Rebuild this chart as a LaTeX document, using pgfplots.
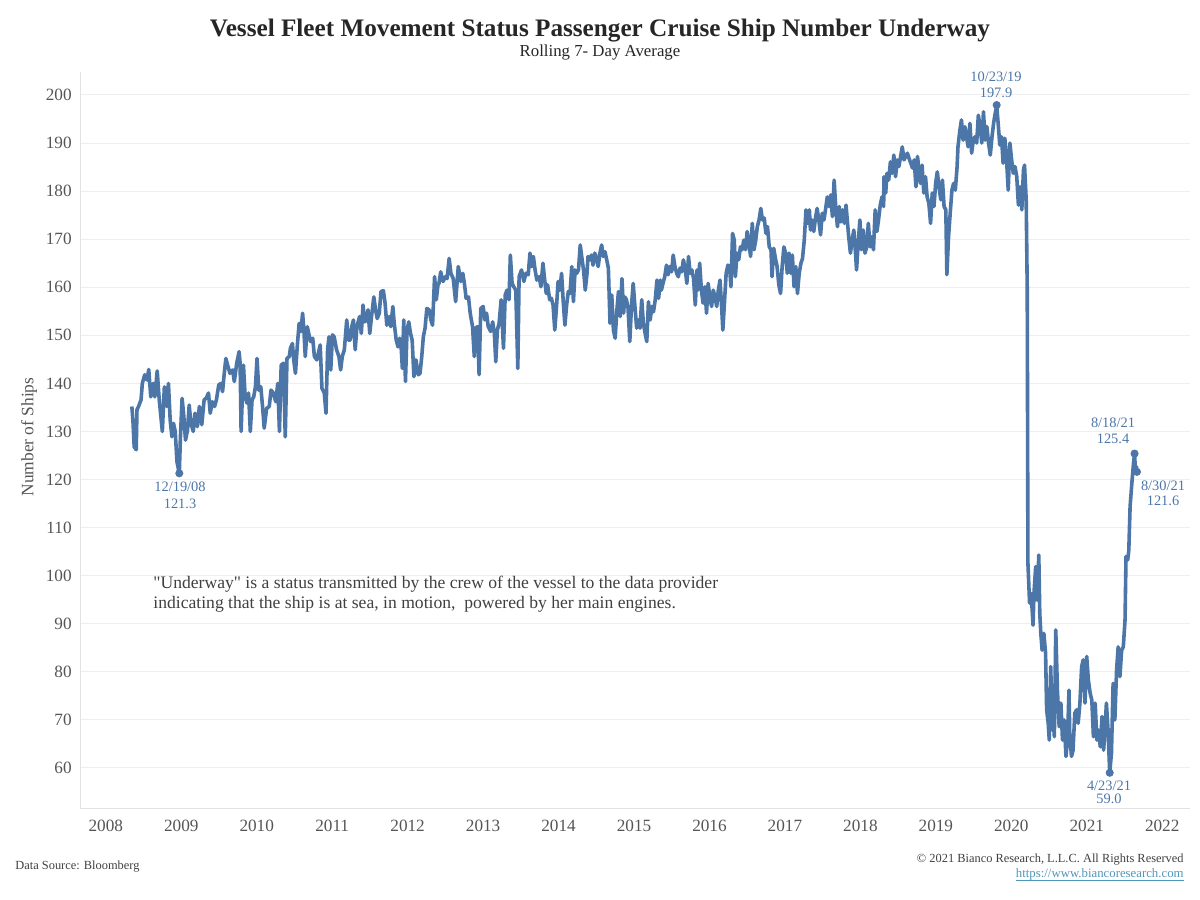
\documentclass[border=0pt]{standalone}
\usepackage{pgfplots}
\pgfplotsset{compat=1.18}
\usepackage{fontspec}
\setmainfont{Liberation Serif}
\newfontfamily\notefont{Liberation Serif}[Ligatures=TeXOff]
\definecolor{line}{RGB}{76,118,167}
\definecolor{gridgray}{RGB}{238,238,238}
\definecolor{axgray}{RGB}{226,226,226}
\definecolor{ticktext}{RGB}{85,85,85}
\definecolor{titletext}{RGB}{38,38,38}
\definecolor{notetext}{RGB}{64,64,64}
\definecolor{linktext}{RGB}{80,150,185}
\begin{document}
\begin{tikzpicture}
\useasboundingbox (0,0) rectangle (600pt,450pt);
\begin{axis}[
  at={(40pt,45.5pt)}, anchor=south west,
  scale only axis, width=555pt, height=368.5pt,
  xmin=2007.658, xmax=2022.368, ymin=51.47, ymax=204.78,
  xtick={2008,2009,2010,2011,2012,2013,2014,2015,2016,2017,2018,2019,2020,2021,2022},
  xticklabels={2008,2009,2010,2011,2012,2013,2014,2015,2016,2017,2018,2019,2020,2021,2022},
  ytick={60,70,80,90,100,110,120,130,140,150,160,170,180,190,200},
  /pgf/number format/assume math mode=true,
  ymajorgrids, major grid style={draw=gridgray, line width=0.5pt},
  major tick length=0pt, tick style={draw=none},
  axis x line*=bottom, axis y line*=left,
  axis line style={draw=axgray, line width=0.5pt, -},
  ticklabel style={font=\fontsize{8.6}{10}\selectfont, text=ticktext},
  yticklabel style={anchor=east, inner sep=0pt, xshift=-4pt},
  xticklabel style={anchor=north, inner sep=0pt, yshift=-5.2pt},
]
\addplot[line, line width=1.8pt, line join=round] table {
x y
2008.345 135.2
2008.359 132.4
2008.376 126.8
2008.403 126.2
2008.413 134.5
2008.434 135.2
2008.467 136.6
2008.484 140.0
2008.516 141.8
2008.547 140.7
2008.569 142.9
2008.596 137.2
2008.627 140.0
2008.650 137.2
2008.681 142.6
2008.708 136.6
2008.749 130.0
2008.776 139.3
2008.808 135.2
2008.830 140.0
2008.853 132.4
2008.876 128.9
2008.897 131.7
2008.920 130.0
2008.943 123.7
2008.974 121.3
2008.989 128.9
2009.011 136.9
2009.034 133.1
2009.056 128.2
2009.083 130.3
2009.105 135.5
2009.128 131.7
2009.159 130.0
2009.182 133.8
2009.213 131.0
2009.240 135.2
2009.272 131.4
2009.303 136.6
2009.330 136.9
2009.361 138.0
2009.384 133.8
2009.411 136.2
2009.442 135.2
2009.466 136.6
2009.497 139.7
2009.524 140.0
2009.547 138.3
2009.568 141.8
2009.591 145.2
2009.614 143.8
2009.645 142.1
2009.681 142.8
2009.703 140.4
2009.735 144.2
2009.766 146.6
2009.780 144.2
2009.793 130.0
2009.824 143.8
2009.847 137.2
2009.870 135.9
2009.892 138.0
2009.915 130.0
2009.938 136.6
2009.960 137.2
2009.983 139.3
2010.004 145.2
2010.027 138.6
2010.054 139.3
2010.077 135.2
2010.099 130.7
2010.131 134.8
2010.166 135.2
2010.189 138.6
2010.220 138.0
2010.252 136.2
2010.279 140.0
2010.301 130.0
2010.324 143.8
2010.355 144.2
2010.378 128.9
2010.401 145.2
2010.432 145.6
2010.446 147.3
2010.473 148.3
2010.490 144.9
2010.513 142.1
2010.540 148.3
2010.562 152.5
2010.585 150.8
2010.608 154.6
2010.625 151.1
2010.643 145.6
2010.670 151.8
2010.693 150.1
2010.715 148.7
2010.742 149.4
2010.764 145.6
2010.796 144.9
2010.827 147.0
2010.841 148.0
2010.864 139.0
2010.895 138.0
2010.918 133.8
2010.939 147.0
2010.958 149.7
2010.981 142.8
2011.004 150.1
2011.026 149.7
2011.058 147.0
2011.089 145.6
2011.112 142.8
2011.134 145.6
2011.161 147.0
2011.193 153.2
2011.215 149.0
2011.238 149.0
2011.260 151.8
2011.282 153.2
2011.305 147.0
2011.328 151.8
2011.363 153.9
2011.386 150.4
2011.409 156.3
2011.430 152.8
2011.454 153.2
2011.475 155.3
2011.498 150.4
2011.521 153.9
2011.552 158.0
2011.575 155.3
2011.597 153.5
2011.624 154.6
2011.647 159.1
2011.678 159.3
2011.701 156.7
2011.724 152.1
2011.755 153.9
2011.777 151.8
2011.804 156.0
2011.822 152.5
2011.849 149.0
2011.872 147.6
2011.894 149.4
2011.916 147.0
2011.930 143.1
2011.948 153.2
2011.971 140.4
2011.992 151.1
2012.015 152.8
2012.038 150.4
2012.060 149.0
2012.083 141.4
2012.110 144.9
2012.141 141.8
2012.164 142.1
2012.187 145.6
2012.208 149.7
2012.231 151.5
2012.254 155.6
2012.285 155.3
2012.308 153.2
2012.330 152.1
2012.357 162.2
2012.380 157.4
2012.402 160.5
2012.415 160.8
2012.438 163.2
2012.469 161.2
2012.501 162.2
2012.523 161.8
2012.550 166.0
2012.573 162.9
2012.604 161.8
2012.636 157.0
2012.671 164.3
2012.704 161.2
2012.731 162.9
2012.752 160.8
2012.775 157.7
2012.806 158.0
2012.829 154.6
2012.860 151.8
2012.883 145.6
2012.902 151.5
2012.925 151.8
2012.947 141.8
2012.969 155.6
2013.001 156.0
2013.023 153.2
2013.046 154.6
2013.068 151.8
2013.100 150.8
2013.127 152.8
2013.149 150.4
2013.168 144.5
2013.189 151.1
2013.212 152.5
2013.239 157.4
2013.270 147.3
2013.293 158.4
2013.316 159.4
2013.343 157.4
2013.361 166.7
2013.384 160.8
2013.406 160.1
2013.433 159.4
2013.460 143.1
2013.477 162.2
2013.509 163.6
2013.540 161.2
2013.567 162.9
2013.598 162.6
2013.621 167.1
2013.644 164.3
2013.666 166.4
2013.689 163.6
2013.712 161.5
2013.743 162.2
2013.766 160.1
2013.793 165.0
2013.814 161.8
2013.837 158.7
2013.855 160.5
2013.882 157.4
2013.905 157.7
2013.927 156.3
2013.950 151.1
2013.973 156.0
2013.994 161.2
2014.017 159.4
2014.040 162.9
2014.062 157.0
2014.084 152.1
2014.107 156.3
2014.129 159.1
2014.152 158.7
2014.175 164.3
2014.197 157.0
2014.219 163.6
2014.242 162.9
2014.264 163.6
2014.287 168.8
2014.310 166.0
2014.331 163.6
2014.354 159.4
2014.377 162.9
2014.390 166.4
2014.413 165.7
2014.436 166.7
2014.457 164.6
2014.480 167.1
2014.503 166.0
2014.525 164.3
2014.548 167.1
2014.571 168.8
2014.592 166.4
2014.615 167.4
2014.638 165.7
2014.660 164.0
2014.682 152.5
2014.705 158.4
2014.727 151.1
2014.750 149.4
2014.773 155.3
2014.794 159.1
2014.817 153.9
2014.840 161.8
2014.862 154.6
2014.877 158.0
2014.900 157.4
2014.921 155.6
2014.944 148.7
2014.967 156.3
2014.989 160.8
2015.012 156.0
2015.035 151.5
2015.056 153.2
2015.079 151.5
2015.102 157.4
2015.124 152.5
2015.147 150.4
2015.169 148.7
2015.191 157.0
2015.214 153.2
2015.237 156.0
2015.258 154.9
2015.281 157.4
2015.304 161.5
2015.326 157.7
2015.349 161.5
2015.363 159.4
2015.384 160.8
2015.407 162.2
2015.430 164.6
2015.452 162.6
2015.475 164.3
2015.498 163.2
2015.519 166.7
2015.542 164.3
2015.565 162.9
2015.587 162.2
2015.610 164.0
2015.633 163.2
2015.654 165.7
2015.677 164.0
2015.700 160.8
2015.722 166.4
2015.744 162.9
2015.767 163.6
2015.789 161.8
2015.812 156.3
2015.835 163.6
2015.847 159.4
2015.870 165.0
2015.893 159.4
2015.915 156.7
2015.938 160.1
2015.961 154.6
2015.982 160.8
2016.005 158.0
2016.028 156.0
2016.050 159.4
2016.073 158.0
2016.096 156.0
2016.117 159.4
2016.140 161.5
2016.163 155.3
2016.177 151.1
2016.198 156.7
2016.221 162.9
2016.244 164.6
2016.266 164.3
2016.284 160.1
2016.306 171.2
2016.329 169.8
2016.343 162.2
2016.365 167.1
2016.387 165.7
2016.410 168.4
2016.432 167.8
2016.455 169.8
2016.478 167.8
2016.499 171.6
2016.522 169.2
2016.545 166.4
2016.567 173.3
2016.590 167.8
2016.613 169.8
2016.634 172.6
2016.657 174.0
2016.680 176.4
2016.702 174.0
2016.725 174.4
2016.748 171.2
2016.769 172.6
2016.792 168.4
2016.815 167.8
2016.829 162.2
2016.851 168.1
2016.874 166.0
2016.896 164.3
2016.919 160.5
2016.942 158.7
2016.963 164.3
2016.986 168.4
2017.009 167.1
2017.031 162.9
2017.054 167.1
2017.077 162.9
2017.098 166.7
2017.121 160.1
2017.144 164.3
2017.166 158.7
2017.189 162.9
2017.212 165.0
2017.233 166.0
2017.256 169.8
2017.279 176.1
2017.301 173.3
2017.324 176.1
2017.338 171.9
2017.359 174.0
2017.382 171.6
2017.405 174.4
2017.426 176.4
2017.449 174.0
2017.472 170.9
2017.494 175.4
2017.517 174.0
2017.540 176.4
2017.561 178.8
2017.584 176.8
2017.607 179.2
2017.629 174.7
2017.652 182.3
2017.675 176.1
2017.696 172.6
2017.719 176.8
2017.742 173.6
2017.764 176.1
2017.787 173.3
2017.810 177.1
2017.822 174.7
2017.845 170.5
2017.868 167.1
2017.890 169.8
2017.913 171.9
2017.935 167.1
2017.949 163.6
2017.971 169.2
2017.993 174.0
2018.016 167.8
2018.038 171.9
2018.061 167.1
2018.084 168.4
2018.105 173.3
2018.128 168.4
2018.151 170.5
2018.173 167.8
2018.196 176.1
2018.219 171.6
2018.240 174.0
2018.263 177.1
2018.286 178.8
2018.308 176.8
2018.312 183.0
2018.335 179.6
2018.353 183.7
2018.375 182.3
2018.398 186.1
2018.420 183.7
2018.443 187.5
2018.466 183.0
2018.487 186.5
2018.510 185.1
2018.533 187.2
2018.555 189.2
2018.578 186.5
2018.601 187.2
2018.622 187.9
2018.645 186.8
2018.668 185.8
2018.690 184.8
2018.713 186.5
2018.736 180.9
2018.757 187.2
2018.780 183.7
2018.795 181.6
2018.817 185.4
2018.840 179.6
2018.863 183.0
2018.884 178.8
2018.907 177.5
2018.930 173.3
2018.952 179.6
2018.975 176.8
2018.997 181.6
2019.019 184.0
2019.042 180.9
2019.065 178.2
2019.087 182.3
2019.109 176.8
2019.132 176.1
2019.146 162.6
2019.168 170.5
2019.190 175.4
2019.213 180.2
2019.235 181.6
2019.258 180.2
2019.281 185.0
2019.293 189.2
2019.316 192.4
2019.339 194.8
2019.361 190.6
2019.384 193.4
2019.406 191.3
2019.428 189.2
2019.451 194.1
2019.474 187.9
2019.496 190.6
2019.518 191.3
2019.541 190.0
2019.563 195.8
2019.586 193.4
2019.609 190.0
2019.631 196.5
2019.653 190.6
2019.676 193.4
2019.698 190.0
2019.721 187.5
2019.744 191.3
2019.765 194.1
2019.779 195.5
2019.806 197.9
2019.829 193.4
2019.847 189.6
2019.870 191.3
2019.891 185.8
2019.914 191.0
2019.937 186.5
2019.959 180.2
2019.981 190.0
2020.004 186.5
2020.026 183.7
2020.049 185.1
2020.072 183.0
2020.094 177.1
2020.116 180.9
2020.139 176.1
2020.161 184.4
2020.175 185.4
2020.197 178.2
2020.211 159.4
2020.220 102.6
2020.242 94.3
2020.261 96.3
2020.274 93.5
2020.288 89.7
2020.300 96.3
2020.323 101.9
2020.341 94.9
2020.364 104.3
2020.377 92.2
2020.391 88.0
2020.408 84.5
2020.431 88.0
2020.454 83.9
2020.468 72.1
2020.489 69.3
2020.503 65.8
2020.522 81.1
2020.543 67.9
2020.557 71.4
2020.570 66.5
2020.589 88.7
2020.611 76.2
2020.634 68.6
2020.657 73.5
2020.678 65.8
2020.701 70.0
2020.724 62.4
2020.745 65.8
2020.764 76.2
2020.774 67.2
2020.797 62.4
2020.818 63.7
2020.841 71.4
2020.864 72.1
2020.886 69.3
2020.909 73.5
2020.932 81.1
2020.953 82.5
2020.976 73.5
2020.999 83.2
2021.021 78.3
2021.044 75.6
2021.067 74.1
2021.088 66.5
2021.111 73.5
2021.134 65.8
2021.156 67.9
2021.179 64.4
2021.202 70.7
2021.223 63.7
2021.246 69.3
2021.260 73.5
2021.282 67.9
2021.304 59.0
2021.327 63.1
2021.349 77.6
2021.372 70.0
2021.395 80.4
2021.416 85.2
2021.439 79.0
2021.462 84.5
2021.484 85.2
2021.507 90.8
2021.520 104.0
2021.543 103.3
2021.557 105.3
2021.574 114.4
2021.597 119.2
2021.619 123.4
2021.633 125.4
2021.642 122.7
2021.650 121.3
2021.658 122.7
2021.665 121.6
};
\addplot[only marks, mark=*, mark size=1.8pt, color=line] coordinates {
(2008.974,121.3) (2019.806,197.9) (2021.304,59.0) (2021.633,125.4) (2021.665,121.6)
};
\end{axis}
% titles
\node[anchor=base, font=\fontsize{12.6}{14}\selectfont\bfseries, text=titletext] at (300pt,431.5pt) {Vessel Fleet Movement Status Passenger Cruise Ship Number Underway};
\node[anchor=base, font=\fontsize{8.4}{10}\selectfont, text=titletext] at (300pt,421.5pt) {Rolling 7- Day Average};
% y label
\node[rotate=90, font=\fontsize{8.7}{10}\selectfont, text=ticktext] at (14.5pt,231.5pt) {Number of Ships};
% annotations
\begin{scope}[every node/.style={anchor=base, font=\fontsize{7.2}{8}\selectfont, text=line}]
\node at (90pt,204pt) {12/19/08};
\node at (90pt,195.75pt) {121.3};
\node at (498pt,409pt) {10/23/19};
\node at (498pt,401.25pt) {197.9};
\node at (556.5pt,236pt) {8/18/21};
\node at (556.5pt,228pt) {125.4};
\node at (581.5pt,204.5pt) {8/30/21};
\node at (581.5pt,197pt) {121.6};
\node at (554.5pt,54.5pt) {4/23/21};
\node at (554.5pt,48pt) {59.0};
\end{scope}
% note
\begin{scope}[every node/.style={anchor=base west, inner sep=0pt, font=\notefont\fontsize{8.8}{10}\selectfont, text=notetext}]
\node at (76.5pt,155.5pt) {"Underway" is a status transmitted by the crew of the vessel to the data provider};
\node at (76.5pt,145.5pt) {indicating that the ship is at sea, in motion,\ \ powered by her main engines.};
\end{scope}
% footer
\node[anchor=base west, inner sep=0pt, font=\fontsize{6.2}{7}\selectfont, text=notetext] at (7.5pt,15pt) {Data Source: Bloomberg};
\node[anchor=base east, inner sep=0pt, font=\fontsize{6.2}{7}\selectfont, text=notetext] at (592pt,18.5pt) {\textcopyright{} 2021 Bianco Research, L.L.C. All Rights Reserved};
\node[anchor=base east, inner sep=0pt, font=\fontsize{6.4}{7}\selectfont, text=linktext] (url) at (592pt,11pt) {https://www.biancoresearch.com};
\draw[linktext, line width=0.4pt] ([yshift=-1pt]url.base west) -- ([yshift=-1pt]url.base east);
\end{tikzpicture}
\end{document}
